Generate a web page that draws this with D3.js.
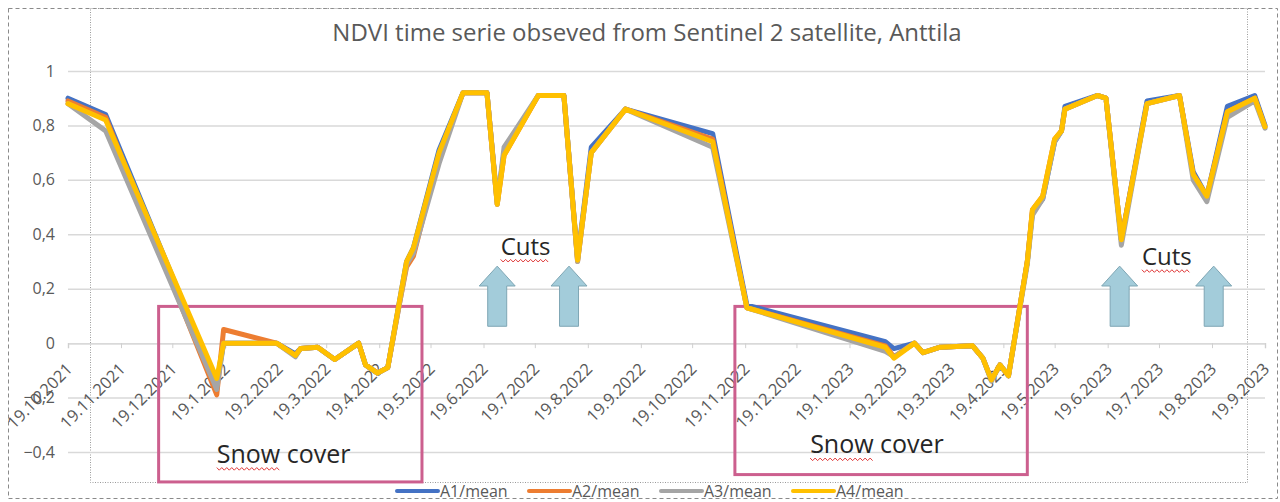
<!DOCTYPE html>
<html>
<head>
<meta charset="utf-8">
<script src="https://cdn.jsdelivr.net/npm/d3@7"></script>
<style>
  html, body { margin: 0; padding: 0; background: #fff; }
  svg { display: block; font-family: "Open Sans", "Noto Sans", sans-serif; }
</style>
</head>
<body>
<svg id="chart" width="1280" height="502"></svg>
<script>
// ---- data ----
const dates = ["2021-10-19", "2021-11-10", "2022-01-14", "2022-01-18", "2022-02-18", "2022-03-01", "2022-03-04", "2022-03-14", "2022-03-24", "2022-04-07",
  "2022-04-11", "2022-04-18", "2022-04-24", "2022-05-01", "2022-05-05", "2022-05-09", "2022-05-24", "2022-06-07", "2022-06-21", "2022-06-27",
  "2022-07-01", "2022-07-21", "2022-08-05", "2022-08-13", "2022-08-21", "2022-09-10", "2022-10-31", "2022-11-20", "2023-02-09", "2023-02-14",
  "2023-02-26", "2023-03-03", "2023-03-13", "2023-04-01", "2023-04-07", "2023-04-12", "2023-04-17", "2023-04-22", "2023-05-03", "2023-05-06",
  "2023-05-12", "2023-05-19", "2023-05-23", "2023-05-25", "2023-06-13", "2023-06-18", "2023-06-27", "2023-07-12", "2023-07-31", "2023-08-08",
  "2023-08-16", "2023-08-28", "2023-09-13", "2023-09-19"];

const a1 = [0.90, 0.84, -0.15, 0.00, 0.00, -0.04, -0.02, -0.015, -0.06, 0.00,
  -0.08, -0.11, -0.09, 0.16, 0.30, 0.35, 0.71, 0.92, 0.92, 0.52,
  0.70, 0.91, 0.91, 0.31, 0.72, 0.86, 0.77, 0.14, 0.005, -0.02,
  0.00, -0.035, -0.015, -0.01, -0.055, -0.135, -0.08, -0.12, 0.30, 0.48,
  0.53, 0.74, 0.78, 0.87, 0.91, 0.90, 0.38, 0.89, 0.91, 0.63,
  0.54, 0.87, 0.91, 0.80];
const a2 = [0.89, 0.83, -0.19, 0.05, 0.00, -0.045, -0.02, -0.015, -0.06, 0.00,
  -0.08, -0.11, -0.09, 0.15, 0.28, 0.32, 0.69, 0.92, 0.92, 0.51,
  0.69, 0.91, 0.91, 0.30, 0.70, 0.86, 0.75, 0.13, -0.01, -0.05,
  0.00, -0.035, -0.015, -0.01, -0.055, -0.135, -0.08, -0.12, 0.30, 0.49,
  0.54, 0.75, 0.78, 0.86, 0.91, 0.90, 0.38, 0.88, 0.91, 0.62,
  0.54, 0.85, 0.90, 0.795];
const a3 = [0.88, 0.78, -0.17, 0.00, 0.00, -0.05, -0.02, -0.015, -0.06, 0.00,
  -0.08, -0.11, -0.09, 0.15, 0.29, 0.33, 0.66, 0.92, 0.92, 0.51,
  0.72, 0.91, 0.91, 0.30, 0.70, 0.86, 0.72, 0.13, -0.03, -0.05,
  0.00, -0.035, -0.015, -0.01, -0.055, -0.14, -0.08, -0.12, 0.29, 0.47,
  0.53, 0.74, 0.78, 0.86, 0.91, 0.90, 0.36, 0.88, 0.91, 0.60,
  0.52, 0.83, 0.89, 0.79];
const a4 = [0.88, 0.82, -0.13, 0.00, 0.00, -0.045, -0.02, -0.015, -0.06, 0.00,
  -0.08, -0.11, -0.09, 0.16, 0.30, 0.35, 0.70, 0.92, 0.92, 0.51,
  0.69, 0.91, 0.91, 0.305, 0.70, 0.86, 0.74, 0.13, -0.015, -0.055,
  0.00, -0.035, -0.015, -0.01, -0.055, -0.135, -0.08, -0.12, 0.30, 0.49,
  0.54, 0.75, 0.78, 0.86, 0.91, 0.90, 0.38, 0.88, 0.91, 0.62,
  0.54, 0.85, 0.90, 0.795];

const seriesNames = ["A1/mean", "A2/mean", "A3/mean", "A4/mean"];
const seriesColors = ["#4472c4", "#ed7d31", "#a5a5a5", "#ffc000"];

const xTickLabels = ["19.10.2021", "19.11.2021", "19.12.2021", "19.1.2022", "19.2.2022", "19.3.2022", "19.4.2022", "19.5.2022",
  "19.6.2022", "19.7.2022", "19.8.2022", "19.9.2022", "19.10.2022", "19.11.2022", "19.12.2022", "19.1.2023", "19.2.2023",
  "19.3.2023", "19.4.2023", "19.5.2023", "19.6.2023", "19.7.2023", "19.8.2023", "19.9.2023"];
const yTicks = [-0.4, -0.2, 0, 0.2, 0.4, 0.6, 0.8, 1];

const title = "NDVI time serie obseved from Sentinel 2 satellite, Anttila";

// annotations (in data units)
const snowBoxes = [
  { from: "2021-12-11", to: "2022-05-14", top: 0.135, bottom: -0.51, label: "Snow cover", at: "2022-01-14", v: -0.44 },
  { from: "2022-11-13", to: "2023-05-03", top: 0.135, bottom: -0.483, label: "Snow cover", at: "2022-12-27", v: -0.405 }
];
const cutLabels = [
  { at: "2022-06-29", v: 0.325 },
  { at: "2023-07-09", v: 0.287 }
];
const cutArrows = ["2022-06-27", "2022-08-08", "2023-06-26", "2023-08-20"];
const arrowTip = 0.283, arrowNeck = 0.21, arrowBase = 0.062;

// ---- layout ----
const W = 1280, H = 502;
const M = { left: 68, right: 1265, top: 71, bottom: 452 };

const parse = d3.utcParse("%Y-%m-%d");
const parseTick = d3.utcParse("%d.%m.%Y");
const tickDates = xTickLabels.map(parseTick);
const fmt = d3.utcFormat("%-d.%-m.%Y");

const x = d3.scaleUtc()
  .domain([tickDates[0], tickDates[tickDates.length - 1]])
  .range([M.left, M.right]);
const y = d3.scaleLinear().domain([-0.4, 1]).range([M.bottom, M.top]);

const svg = d3.select("#chart");
svg.append("rect").attr("width", W).attr("height", H).attr("fill", "#fff");

// frames
svg.append("rect")
  .attr("x", 8.5).attr("y", 8.5).attr("width", 1269).attr("height", 490)
  .attr("fill", "none").attr("stroke", "#8a8a8a").attr("stroke-dasharray", "4,3");
svg.append("rect")
  .attr("x", 90.5).attr("y", 8.5).attr("width", 1157).attr("height", 474)
  .attr("fill", "none").attr("stroke", "#9a9a9a").attr("stroke-dasharray", "1,1.5");

// title
svg.append("text")
  .attr("x", 647).attr("y", 41)
  .attr("text-anchor", "middle")
  .attr("font-size", 24).attr("fill", "#595959")
  .text(title);

// gridlines
const yAxis = d3.axisLeft(y).tickValues(yTicks)
  .tickSize(-(M.right - M.left)).tickPadding(13)
  .tickFormat(d => d3.format(".1f")(d).replace(".", ",").replace(/^1,0$/, "1").replace(/^-?0,0$/, "0"));
svg.append("g")
  .attr("transform", `translate(${M.left},0)`)
  .call(yAxis)
  .call(g => g.select(".domain").remove())
  .call(g => g.selectAll(".tick line").attr("stroke", "#d9d9d9").attr("stroke-width", 1.5))
  .call(g => g.selectAll(".tick text").attr("font-size", 16).attr("fill", "#595959").attr("font-family", "Open Sans, sans-serif"));

// x axis at 0
const xAxis = d3.axisBottom(x).tickValues(tickDates).tickSize(5).tickFormat(fmt);
svg.append("g")
  .attr("transform", `translate(0,${y(0)})`)
  .call(xAxis)
  .call(g => g.select(".domain").attr("stroke", "#d9d9d9").attr("stroke-width", 1.5))
  .call(g => g.selectAll(".tick line").attr("stroke", "#d0d0d0"))
  .call(g => g.selectAll(".tick text")
    .attr("font-size", 16.5).attr("fill", "#595959").attr("font-family", "Open Sans, sans-serif")
    .attr("text-anchor", "end").attr("dy", null).attr("y", 0)
    .attr("transform", "translate(5,27) rotate(-45)"));

// snow boxes
snowBoxes.forEach(b => {
  svg.append("rect")
    .attr("x", x(parse(b.from))).attr("y", y(b.top))
    .attr("width", x(parse(b.to)) - x(parse(b.from)))
    .attr("height", y(b.bottom) - y(b.top))
    .attr("fill", "none").attr("stroke", "#cc5f8e").attr("stroke-width", 3);
});

// arrows
const headHalf = 18, shaftHalf = 9.5;
cutArrows.forEach(d => {
  const cx = x(parse(d));
  const pts = [
    [cx, y(arrowTip)], [cx + headHalf, y(arrowNeck)], [cx + shaftHalf, y(arrowNeck)],
    [cx + shaftHalf, y(arrowBase)], [cx - shaftHalf, y(arrowBase)], [cx - shaftHalf, y(arrowNeck)],
    [cx - headHalf, y(arrowNeck)]
  ];
  svg.append("path")
    .attr("d", d3.line()(pts) + "Z")
    .attr("fill", "#a3ccda").attr("stroke", "#7ea6b4").attr("stroke-width", 1);
});

// lines
const allSeries = [a1, a2, a3, a4];
const line = d3.line().x(d => x(d[0])).y(d => y(d[1]));
allSeries.forEach((vals, i) => {
  const pts = dates.map((d, j) => [parse(d), vals[j]]);
  svg.append("path")
    .attr("d", line(pts))
    .attr("fill", "none")
    .attr("stroke", seriesColors[i])
    .attr("stroke-width", 5)
    .attr("stroke-linejoin", "round")
    .attr("stroke-linecap", "round");
});

// wavy underline helper
function squiggle(x0, x1, yy) {
  const pts = [];
  let up = true;
  for (let xx = x0; xx <= x1; xx += 2.5) { pts.push([xx, yy + (up ? -1.3 : 1.3)]); up = !up; }
  return d3.line()(pts);
}

function noteText(px, py, first, rest, size) {
  const t = svg.append("text")
    .attr("x", px).attr("y", py)
    .attr("font-size", size).attr("fill", "#262626");
  const t1 = t.append("tspan").text(first);
  if (rest) t.append("tspan").text(rest);
  const w = t1.node().getComputedTextLength();
  svg.append("path")
    .attr("d", squiggle(px, px + w, py + 6))
    .attr("fill", "none").attr("stroke", "#e03a3a").attr("stroke-width", 1);
}

snowBoxes.forEach(b => noteText(x(parse(b.at)), y(b.v), "Snow", " cover", 25));
cutLabels.forEach(c => noteText(x(parse(c.at)), y(c.v), "Cuts", "", 24));

// legend
const legend = svg.append("g").attr("transform", "translate(397,491)");
seriesNames.forEach((name, i) => {
  const g = legend.append("g").attr("transform", `translate(${i * 132},0)`);
  g.append("line").attr("x1", 0).attr("x2", 41).attr("y1", 0).attr("y2", 0)
    .attr("stroke", seriesColors[i]).attr("stroke-width", 4).attr("stroke-linecap", "round");
  g.append("text").attr("x", 43).attr("y", 6)
    .attr("font-size", 16).attr("fill", "#595959").text(name);
});
</script>
</body>
</html>
